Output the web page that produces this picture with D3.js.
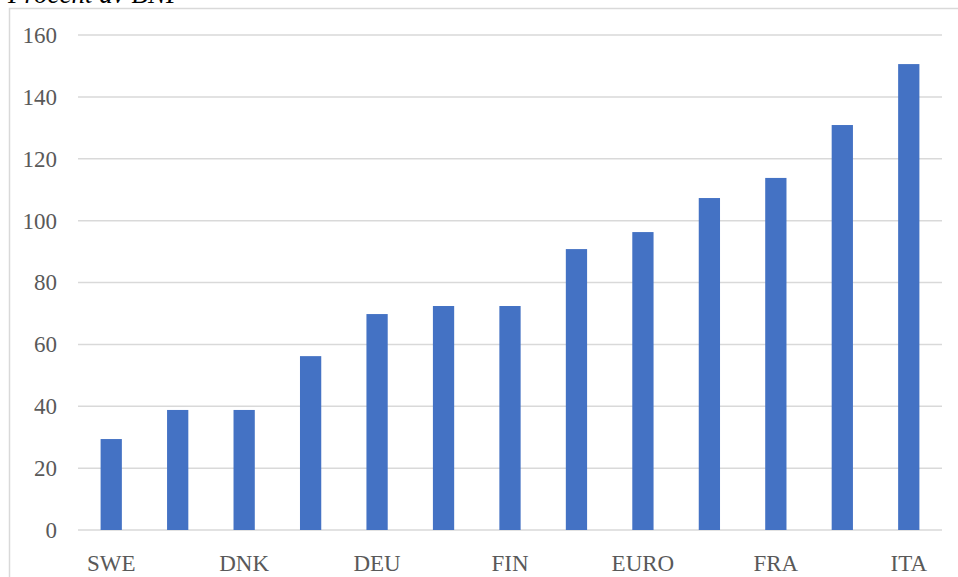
<!DOCTYPE html>
<html>
<head>
<meta charset="utf-8">
<script src="https://cdn.jsdelivr.net/npm/d3@7"></script>
<style>
  body { margin: 0; background: #fff; }
  svg { display: block; }
</style>
</head>
<body>
<div id="chart"></div>
<script>
// categories (only every other one gets a label, like the original)
var countries = ["SWE", "NOR", "DNK", "NLD", "DEU", "AUT", "FIN", "GBR", "EURO", "ESP", "FRA", "PRT", "ITA"];
var values = [29.4, 38.8, 38.8, 56.2, 69.8, 72.4, 72.4, 90.8, 96.3, 107.3, 113.8, 130.9, 150.6];
var yTicks = [0, 20, 40, 60, 80, 100, 120, 140, 160];

var W = 958, H = 577;
var margin = { left: 78, right: 16, top: 35, bottom: 47 };
var width = W - margin.left - margin.right;
var height = H - margin.top - margin.bottom;

var svg = d3.select("#chart").append("svg")
    .attr("width", W)
    .attr("height", H);

// outer chart border (runs off the page at right and bottom)
svg.append("rect")
    .attr("x", 9.5).attr("y", 8.5)
    .attr("width", 1000).attr("height", 1000)
    .attr("fill", "none")
    .attr("stroke", "#d9d9d9")
    .attr("stroke-width", 1.5);

// unit text, mostly cut off at the top
svg.append("text")
    .attr("x", 8).attr("y", 3)
    .style("font-family", "'Liberation Serif', 'Times New Roman', serif")
    .style("font-style", "italic")
    .style("font-size", "27px")
    .attr("fill", "#000")
    .text("Procent av BNP");

var g = svg.append("g")
    .attr("transform", "translate(" + margin.left + "," + margin.top + ")");

var x = d3.scaleBand().domain(countries).range([0, width]).paddingInner(0.68).paddingOuter(0.34);
var y = d3.scaleLinear().domain([0, 160]).range([height, 0]);

// gridlines
g.selectAll(".grid")
    .data(yTicks)
    .enter().append("line")
    .attr("x1", 0).attr("x2", width)
    .attr("y1", function (d) { return y(d); })
    .attr("y2", function (d) { return y(d); })
    .attr("stroke", "#d9d9d9")
    .attr("stroke-width", 1.5);

// y labels
var yAxis = g.append("g").call(d3.axisLeft(y).tickValues(yTicks).tickSize(0).tickPadding(21));
yAxis.select(".domain").remove();
yAxis.selectAll("text")
    .style("font-family", "'Liberation Serif', 'Times New Roman', serif")
    .style("font-size", "23px")
    .attr("fill", "#595959");

// bars
g.selectAll(".bar")
    .data(values)
    .enter().append("rect")
    .attr("x", function (d, i) { return x(countries[i]); })
    .attr("width", x.bandwidth())
    .attr("y", function (d) { return y(d); })
    .attr("height", function (d) { return height - y(d); })
    .attr("fill", "#4472c4");

// x labels, every other category
var xAxis = g.append("g")
    .attr("transform", "translate(0," + height + ")")
    .call(d3.axisBottom(x).tickSize(0).tickPadding(25)
        .tickFormat(function (d, i) { return i % 2 == 0 ? d : ""; }));
xAxis.select(".domain").remove();
xAxis.selectAll("text")
    .style("font-family", "'Liberation Serif', 'Times New Roman', serif")
    .style("font-size", "23px")
    .attr("fill", "#595959");
</script>
</body>
</html>
